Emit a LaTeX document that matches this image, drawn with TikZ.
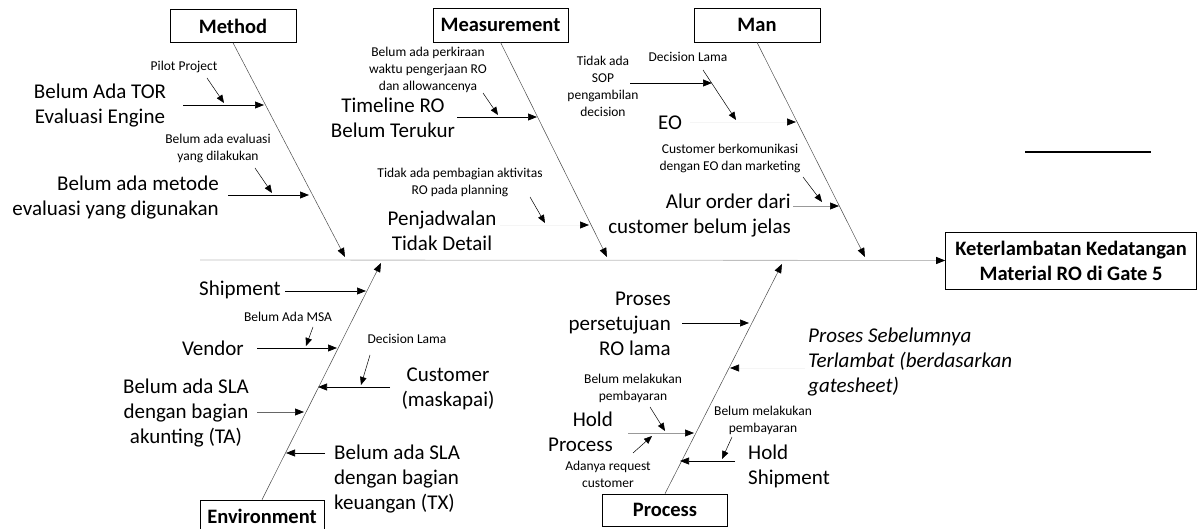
\documentclass[tikz,border=0pt]{standalone}
\usepackage{fontspec}
\setmainfont{Carlito}
\usetikzlibrary{arrows.meta}
\begin{document}
\begin{tikzpicture}[x=1pt,y=-1pt,
  cat/.style={draw, line width=0.6pt, font=\fontsize{20.5}{23}\selectfont\bfseries, inner sep=0pt, minimum height=33pt},
  big/.style={font=\fontsize{21}{25}\selectfont, align=center, inner sep=0pt},
  small/.style={font=\fontsize{13.5}{17}\selectfont, align=center, inner sep=0pt},
  bone/.style={line width=0.5pt, draw=black!70, -{Triangle[length=9pt,width=7pt,color=black]}},
  sub/.style={line width=0.7pt, draw=black, -{Triangle[length=9pt,width=7pt,color=black]}},
  faint/.style={line width=0.7pt, draw=black!4, -{Triangle[length=9pt,width=7pt,color=black]}},
  subsub/.style={line width=0.5pt, draw=black, -{Triangle[length=8pt,width=6.5pt,color=black]}}
]
\useasboundingbox (0,0) rectangle (1197,529);

% ---- category boxes ----
\node[cat, minimum width=126pt] (method) at (233,26) {Method};
\node[cat, minimum width=135pt, minimum height=34pt] (meas) at (500.5,25) {Measurement};
\node[cat, minimum width=126pt, minimum height=34pt] (man) at (757,25) {Man};
\node[cat, minimum width=124pt, minimum height=32pt] (env) at (262,516) {Environment};
\node[cat, minimum width=125pt, minimum height=32pt] (proc) at (665,510) {Process};
\node[draw, line width=0.6pt, font=\fontsize{20.5}{25}\selectfont\bfseries, align=center,
      minimum width=251pt, minimum height=57pt, inner sep=0pt] (effect) at (1071,260.5)
      {Keterlambatan Kedatangan\\Material RO di Gate 5};

% ---- spine ----
\coordinate (spineL) at (200,260);
\draw[line width=0.8pt, draw=black!25, -{Triangle[length=9pt,width=7pt,color=black]}] (spineL) -- (effect.west);

% ---- bones ----
\coordinate (mE) at (345,257);
\coordinate (msE) at (607,257);
\coordinate (mnE) at (865,257);
\coordinate (eE) at (381,263);
\coordinate (pE) at (782,264);
\draw[bone] (method.south) -- (mE);
\draw[bone] (meas.south) -- (msE);
\draw[bone] (man.south) -- (mnE);
\draw[bone] (env.north) -- (eE);
\draw[bone] (proc.north) -- (pE);

% ---- decorative line ----
\coordinate (dl1) at (1025,152);
\coordinate (dl2) at (1151,152);
\draw[line width=1.6pt] (dl1) -- (dl2);

% ---- Method ----
\node[big] (tor) at (100,105.5) {Belum Ada TOR\\Evaluasi Engine};
\coordinate (torS) at (183,105); \coordinate (torE) at (264,105);
\draw[sub] (torS) -- (torE);
\node[small] (pilot) at (184,67) {Pilot Project};
\coordinate (pilS) at (207,78); \coordinate (pilE) at (224,103);
\draw[subsub] (pilS) -- (pilE);
\node[small] (evalu) at (218,148) {Belum ada evaluasi\\yang dilakukan};
\coordinate (evS) at (255,168); \coordinate (evE) at (272,193);
\draw[subsub] (evS) -- (evE);
\node[big, align=right, anchor=east] (metode) at (219,197.5) {Belum ada metode\\evaluasi yang digunakan};
\coordinate (metS) at (228,195); \coordinate (metE) at (309,195);
\draw[sub] (metS) -- (metE);

% ---- Measurement ----
\node[small] (perk) at (428,70) {Belum ada perkiraan\\waktu pengerjaan RO\\dan allowancenya};
\coordinate (perS) at (483,93); \coordinate (perE) at (498,115);
\draw[subsub] (perS) -- (perE);
\node[big] (timeline) at (393,117.5) {Timeline RO\\Belum Terukur};
\coordinate (tlS) at (457,117); \coordinate (tlE) at (537,117);
\draw[sub] (tlS) -- (tlE);
\node[small] (pemb) at (460,182) {Tidak ada pembagian aktivitas\\RO pada planning};
\coordinate (pbS) at (530,197); \coordinate (pbE) at (545,223);
\draw[subsub] (pbS) -- (pbE);
\node[big] (penj) at (442,230.5) {Penjadwalan\\Tidak Detail};
\coordinate (pjS) at (500,225); \coordinate (pjE) at (589,225);
\draw[faint] (pjS) -- (pjE);

% ---- Man ----
\node[small] (sop) at (603,86) {Tidak ada\\SOP\\pengambilan\\decision};
\coordinate (sopS) at (630,83); \coordinate (sopE) at (712,83);
\draw[sub] (sopS) -- (sopE);
\node[small] (declama) at (688,57) {Decision Lama};
\coordinate (dlS) at (703,70); \coordinate (dlE) at (736,120);
\draw[subsub] (dlS) -- (dlE);
\node[big] (eo) at (670,123) {EO};
\coordinate (eoS) at (690,122); \coordinate (eoE) at (796,122);
\draw[faint] (eoS) -- (eoE);
\node[small] (custk) at (730,158) {Customer berkomunikasi\\dengan EO dan marketing};
\coordinate (ckS) at (803,177); \coordinate (ckE) at (822,202);
\draw[subsub] (ckS) -- (ckE);
\node[big, align=right, anchor=east] (alur) at (791,215.5) {Alur order dari\\customer belum jelas};
\coordinate (alS) at (793,206); \coordinate (alE) at (839,206);
\draw[sub, draw=black!40, line width=0.6pt] (alS) -- (alE);

% ---- Environment ----
\node[big, anchor=east] (ship) at (281,290) {Shipment};
\coordinate (shS) at (285,291); \coordinate (shE) at (366,291);
\draw[sub] (shS) -- (shE);
\node[small] (msa) at (288,317) {Belum Ada MSA};
\coordinate (msaS) at (313,327); \coordinate (msaE) at (306,346);
\draw[subsub] (msaS) -- (msaE);
\node[big, anchor=east] (vendor) at (244,348) {Vendor};
\coordinate (vnS) at (257,348); \coordinate (vnE) at (337,348);
\draw[sub] (vnS) -- (vnE);
\node[small] (declama2) at (407,339) {Decision Lama};
\coordinate (d2S) at (370,355); \coordinate (d2E) at (361,385);
\draw[subsub] (d2S) -- (d2E);
\node[big] (cust) at (448,388.5) {Customer\\(maskapai)};
\coordinate (cuS) at (390,387); \coordinate (cuE) at (318,387);
\draw[sub] (cuS) -- (cuE);
\node[big] (slata) at (186,413.5) {Belum ada SLA\\dengan bagian\\akunting (TA)};
\coordinate (taS) at (257,412); \coordinate (taE) at (304,412);
\draw[sub, draw=black!60] (taS) -- (taE);
\node[big, align=left, anchor=west] (slatx) at (334,479.5) {Belum ada SLA\\dengan bagian\\keuangan (TX)};
\coordinate (txS) at (325,453); \coordinate (txE) at (286,453);
\draw[sub] (txS) -- (txE);

% ---- Process ----
\node[big, align=right, anchor=east] (pers) at (671,323.5) {Proses\\persetujuan\\RO lama};
\coordinate (psS) at (682,323); \coordinate (psE) at (749,323);
\draw[sub] (psS) -- (psE);
\node[big, align=left, anchor=west, font=\fontsize{21}{25}\selectfont\itshape] (sebel) at (808,362.5) {Proses Sebelumnya\\Terlambat (berdasarkan\\gatesheet)};
\coordinate (sbS) at (805,368); \coordinate (sbE) at (730,368);
\draw[faint] (sbS) -- (sbE);
\node[small] (blm1) at (633,388) {Belum melakukan\\pembayaran};
\coordinate (b1S) at (650,407); \coordinate (b1E) at (665,431);
\draw[subsub] (b1S) -- (b1E);
\node[big, align=right, anchor=east] (holdp) at (613,431.5) {Hold\\Process};
\coordinate (hpS) at (628,433); \coordinate (hpE) at (694,433);
\draw[sub, draw=black!40] (hpS) -- (hpE);
\node[small] (adanya) at (608,474) {Adanya request\\customer};
\coordinate (adS) at (633,453); \coordinate (adE) at (652,436);
\draw[subsub] (adS) -- (adE);
\node[small] (blm2) at (763,420) {Belum melakukan\\pembayaran};
\coordinate (b2S) at (732,437); \coordinate (b2E) at (722,459);
\draw[subsub] (b2S) -- (b2E);
\node[big, align=left, anchor=west] (holds) at (748,466) {Hold\\Shipment};
\coordinate (hsS) at (735,461); \coordinate (hsE) at (680,461);
\draw[sub] (hsS) -- (hsE);
\end{tikzpicture}
\end{document}
